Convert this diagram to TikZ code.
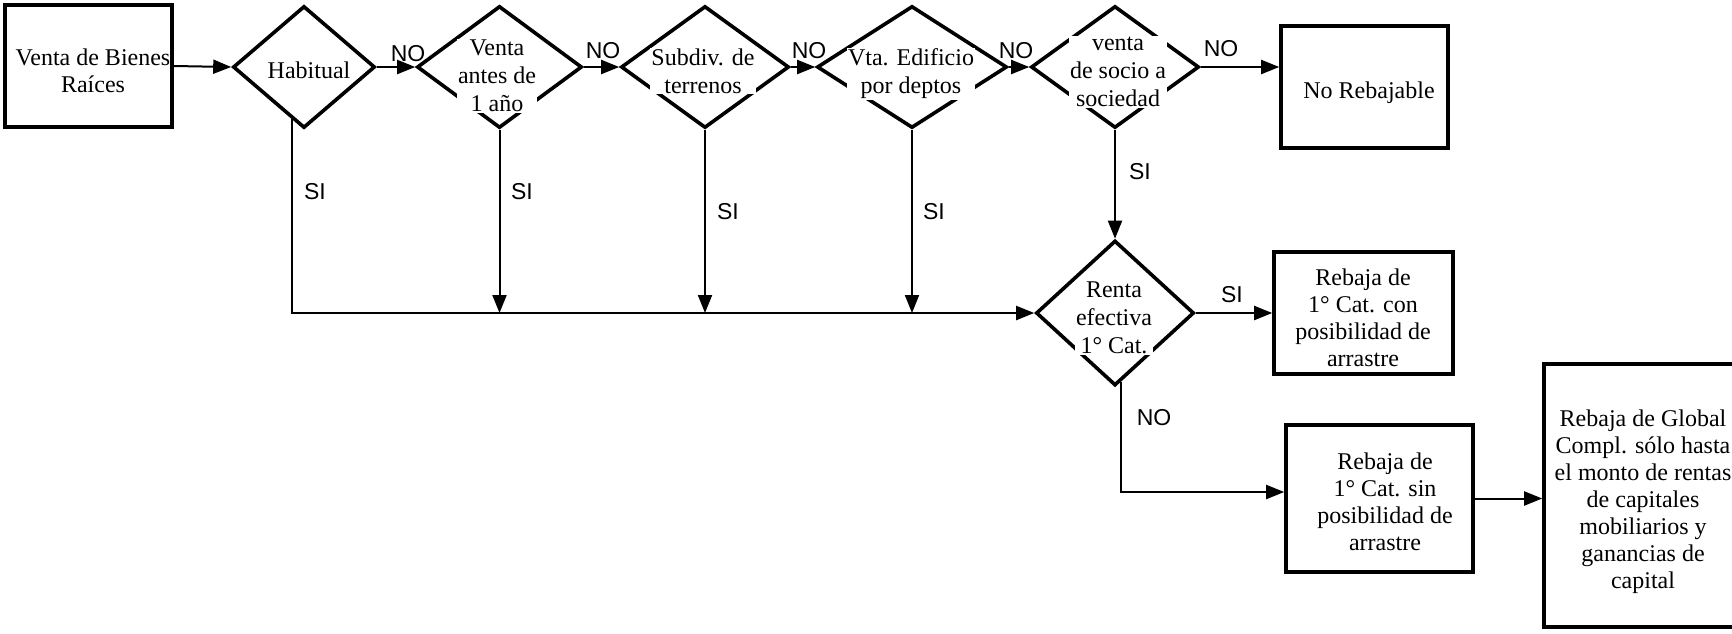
\documentclass[tikz,border=0pt]{standalone}
\usepackage{fontspec}
\setmainfont{Liberation Serif}
\newfontfamily\lbsans{Liberation Sans}
\usetikzlibrary{shapes.geometric,arrows.meta,calc}
\begin{document}
\begin{tikzpicture}[x=0.5pt,y=-0.5pt,
  shp/.style={draw, line width=1.8pt, inner sep=0pt},
  dia/.style={shp, diamond, fill=white},
  boxn/.style={shp, rectangle, fill=white},
  txt/.style={font=\fontsize{12}{13.5}\selectfont, align=center, inner sep=0pt},
  dtxt/.style={font=\fontsize{12}{14}\selectfont, align=center, inner sep=0.5pt, fill=white},
  lbl/.style={font=\lbsans\fontsize{11.5}{13}\selectfont, inner sep=0pt},
  arr/.style={line width=1pt, -{Triangle[length=9pt,width=7pt]}},
  ln/.style={line width=1pt}]
\useasboundingbox (0,0) rectangle (1732,633);
\clip (0,0) rectangle (1732,633);

% boxes
\node[boxn, minimum width=83.5pt, minimum height=61pt] (b1) at (88.5,66) {};
\node[boxn, minimum width=83.5pt, minimum height=61pt] (nrb) at (1364.5,87) {};
\node[boxn, minimum width=89.5pt, minimum height=61pt] (bcon) at (1363.5,313) {};
\node[boxn, minimum width=93.5pt, minimum height=73.5pt] (bsin) at (1379.5,498.5) {};
\node[boxn, minimum width=99pt, minimum height=131.5pt] (big) at (1643,495.5) {};

% diamonds
\node[dia, minimum width=71pt, minimum height=61pt] (hab) at (304,67) {};
\node[dia, minimum width=82.5pt, minimum height=61pt] (d2) at (499.5,67) {};
\node[dia, minimum width=84pt, minimum height=61pt] (d3) at (705,67) {};
\node[dia, minimum width=95pt, minimum height=61pt] (d4) at (912,67) {};
\node[dia, minimum width=84pt, minimum height=61pt] (d5) at (1115,67) {};
\node[dia, minimum width=79pt, minimum height=72.5pt] (ren) at (1115,313) {};

% texts
\node[txt] (t1) at (93,71) {Venta de Bienes\\Raíces};
\node[txt] (tnrb) at (1369,93) {No Rebajable};
\node[txt] (tcon) at (1363,318) {Rebaja de\\1° Cat. con\\posibilidad de\\arrastre};
\node[txt] (tsin) at (1385,502) {Rebaja de\\1° Cat. sin\\posibilidad de\\arrastre};
\node[txt] (tbig) at (1643,502) {Rebaja de Global\\Compl. sólo hasta\\el monto de rentas\\de capitales\\mobiliarios y\\ganancias de\\capital};
\node[dtxt] (thab) at (309,70) {Habitual};
\node[dtxt] (td2) at (497,76) {Venta\\antes de\\1 año};
\node[dtxt] (td3) at (703,71) {Subdiv. de\\terrenos};
\node[dtxt] (td4) at (911,74) {Vta. Edificio\\por deptos};
\node[dtxt] (td5) at (1118,72) {venta\\de socio a\\sociedad};
\node[dtxt] (tren) at (1114,318) {Renta\\efectiva\\1° Cat.};

% NO chain
\draw[arr] (b1.east) -- (hab.west);
\draw[arr] (hab.east) -- (d2.west);
\draw[arr] (d2.east) -- (d3.west);
\draw[arr] (d3.east) -- (d4.west);
\draw[arr] (d4.east) -- (d5.west);
\draw[arr] (d5.east) -- (d5.east -| nrb.west);
\node[lbl] (n1) at (408,54) {NO};
\node[lbl] (n2) at (603,51) {NO};
\node[lbl] (n3) at (809,51) {NO};
\node[lbl] (n4) at (1016,51) {NO};
\node[lbl] (n5) at (1221,49) {NO};

% SI lines
\draw[arr] (hab.257.8) |- (ren.west);
\draw[arr] (d2.south) -- (d2.south |- ren.west);
\draw[arr] (d3.south) -- (d3.south |- ren.west);
\draw[arr] (d4.south) -- (d4.south |- ren.west);
\draw[arr] (d5.south) -- (ren.north);
\node[lbl] (s1) at (315,192) {SI};
\node[lbl] (s2) at (522,192) {SI};
\node[lbl] (s3) at (728,212) {SI};
\node[lbl] (s4) at (934,212) {SI};
\node[lbl] (s5) at (1140,172) {SI};

% Renta outputs
\draw[arr] (ren.east) -- (bcon.west);
\node[lbl] (s6) at (1232,295) {SI};
\draw[arr] (ren.-85) |- ($(bsin.west)+(0,-6.5)$);
\node[lbl] (n6) at (1154,418) {NO};
\draw[arr] (bsin.east) -- (bsin.east -| big.west);
\end{tikzpicture}
\end{document}
